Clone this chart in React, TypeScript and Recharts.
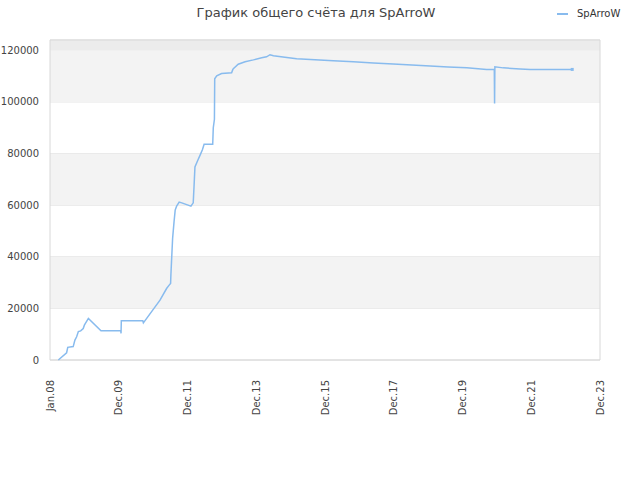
import { LineChart, Line, XAxis, YAxis, CartesianGrid, ReferenceArea } from "recharts"

// months since Jan 2008
const months = [
  2.9, 5.8, 6.2, 8.1, 8.7, 9.3, 9.9, 10.7, 11.6, 12.0, 13.4, 17.8, 24.7, 24.8, 24.9, 32.4, 32.6,
  38.4, 40.7, 41.6, 42.1, 42.2, 42.5, 42.8, 43.3, 43.7, 44.2, 45.1, 46.0, 49.2, 50.0, 50.3, 50.6,
  51.6, 52.4, 53.2, 53.8, 56.8, 57.0, 57.4, 57.5, 58.2, 59.9, 63.4, 63.8, 64.0, 65.7, 68.1, 71.0,
  73.9, 75.6, 76.8, 78.0, 82.0, 86.1, 92.5, 98.9, 105.9, 112.9, 119.8, 126.3, 132.7, 139.0, 145.5,
  152.4, 155.1, 155.2, 155.3, 158.2, 164.1, 167.6, 182.3,
]
const scores = [
  0, 2800, 4900, 5200, 7700, 9000, 11000, 11300, 12200, 13500, 16100, 11300, 11300, 10300, 15200, 15200, 14400,
  23200, 27700, 29000, 29700, 32900, 40000, 47100, 53500, 58100, 59600, 61200, 60900, 59600, 60900, 67700, 74800,
  77400, 79400, 81500, 83600, 83600, 90000, 93300, 109000, 110100, 111000, 111300, 112500, 112900, 114600, 115600, 116300,
  117100, 117500, 118300, 117900, 117300, 116700, 116300, 116000, 115600, 115100, 114700, 114300, 113900, 113500, 113200,
  112600, 112600, 99400, 113600, 113200, 112800, 112600, 112600,
]
const xTicks = [0, 24, 48, 72, 96, 120, 144, 168, 192]
const xLabels = ["Jan.08", "Dec.09", "Dec.11", "Dec.13", "Dec.15", "Dec.17", "Dec.19", "Dec.21", "Dec.23"]
const yTicks = [0, 20000, 40000, 60000, 80000, 100000, 120000]

const data = months.map((m, i) => ({ m, v: scores[i] }))
const font = "'DejaVu Sans', sans-serif"
const lineColor = "#88bbee"

const XTick = (props: any) => {
  const { x, y, payload } = props
  const idx = xTicks.indexOf(payload.value)
  return (
    <text
      transform={`translate(${x + 3.5},${y + 12}) rotate(-90)`}
      textAnchor="end"
      fontSize={10}
      fontFamily={font}
      fill="#444"
    >
      {xLabels[idx]}
    </text>
  )
}

const LastDot = (props: any) => {
  const { cx, cy, index } = props
  if (index !== data.length - 1) return <g key={index} />
  return <rect key={index} x={cx - 1.5} y={cy - 1.5} width={3} height={3} fill={lineColor} />
}

export default function App() {
  return (
    <div style={{ position: "absolute", left: 0, top: 0, width: 640, height: 480, background: "#fff", fontFamily: font }}>
      <div style={{ position: "absolute", top: 5, left: 0, width: 632, textAlign: "center", fontSize: 13, color: "#444" }}>
        График общего счёта для SpArroW
      </div>
      <div style={{ position: "absolute", top: 8, left: 557, fontSize: 10, color: "#333", display: "flex", alignItems: "center" }}>
        <span style={{ display: "inline-block", width: 11, height: 2, background: lineColor, marginRight: 9 }} />
        SpArroW
      </div>
      <LineChart width={640} height={480} data={data} margin={{ top: 40, right: 40, bottom: 60, left: 0 }}>
        <ReferenceArea x1={0} x2={192} y1={120000} y2={124000} fill="#ececec" fillOpacity={1} />
        <ReferenceArea x1={0} x2={192} y1={100000} y2={120000} fill="#f3f3f3" fillOpacity={1} />
        <ReferenceArea x1={0} x2={192} y1={60000} y2={80000} fill="#f3f3f3" fillOpacity={1} />
        <ReferenceArea x1={0} x2={192} y1={20000} y2={40000} fill="#f3f3f3" fillOpacity={1} />
        <CartesianGrid vertical={false} stroke="#e0e0e0" />
        <ReferenceArea x1={0} x2={192} y1={0} y2={124000} fill="none" stroke="#d8d8d8" strokeWidth={1} />
        <XAxis
          dataKey="m"
          type="number"
          domain={[0, 192]}
          ticks={xTicks}
          tick={<XTick />}
          tickLine={false}
          axisLine={false}
          height={60}
          interval={0}
        />
        <YAxis
          type="number"
          domain={[0, 124000]}
          ticks={yTicks}
          width={50}
          tickLine={false}
          axisLine={false}
          tickSize={0}
          tickMargin={11}
          tick={{ fontSize: 10, fontFamily: font, fill: "#444" }}
          interval={0}
        />
        <Line
          type="linear"
          dataKey="v"
          stroke={lineColor}
          strokeWidth={1.5}
          dot={<LastDot />}
          activeDot={false}
          isAnimationActive={false}
        />
      </LineChart>
    </div>
  )
}
